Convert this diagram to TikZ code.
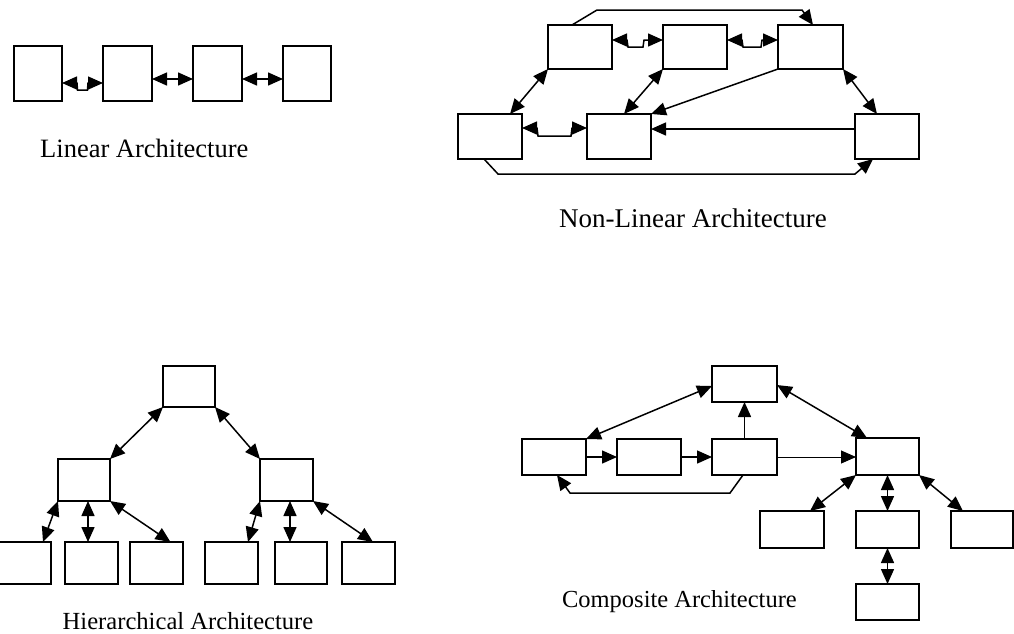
\documentclass[tikz,border=0pt]{standalone}
\usepackage{fontspec}
\setmainfont{Liberation Serif}
\usetikzlibrary{arrows.meta}
\begin{document}
\begin{tikzpicture}[x=1pt,y=-1pt,
  bx/.style 2 args={draw, line width=1.6pt, minimum width=#1pt, minimum height=#2pt, inner sep=0pt, outer sep=0pt},
  con/.style={line width=1.5pt, line join=miter},
  arr/.style={con, -{Triangle[length=15pt,width=13pt]}},
  biarr/.style={con, {Triangle[length=15pt,width=13pt]}-{Triangle[length=15pt,width=13pt]}},
  lab/.style={anchor=base, inner sep=0pt}]
\fill[white] (0,0) rectangle (1014,633);
\useasboundingbox (0,0) rectangle (1014,633);

% ---------- Linear ----------
\node[bx={48}{55}] (l1) at (38,73.5) {};
\node[bx={49}{55}] (l2) at (127.5,73.5) {};
\node[bx={49}{55}] (l3) at (217.5,73.5) {};
\node[bx={48}{55}] (l4) at (307,73.5) {};
\draw[biarr] (l1.east |- 0,83) -- (77,83) -- (77.5,90) -- (87.5,90) -- (88,83) -- (l2.west |- 0,83);
\draw[biarr] (l2.east |- 0,79) -- (l3.west |- 0,79);
\draw[biarr] (l3.east |- 0,79) -- (l4.west |- 0,79);
\node[lab, anchor=base west, font=\fontsize{26.5}{30}\selectfont] (tl) at (40,157) {Linear Architecture};

% ---------- Non-linear ----------
\node[bx={64}{44}] (na) at (580,47) {};
\node[bx={64}{44}] (nb) at (695,47) {};
\node[bx={65}{44}] (nc) at (810.5,47) {};
\node[bx={64}{45}] (nd) at (490,136.5) {};
\node[bx={64}{45}] (ne) at (619,136.5) {};
\node[bx={64}{45}] (nf) at (887,136.5) {};
\draw[arr] ([xshift=-8pt]na.north) -- (597,10) -- (802,10) -- ([xshift=2.5pt]nc.north);
\draw[biarr] (na.east |- 0,40) -- (627,40) -- (628,47) -- (643,47) -- (644,40) -- (nb.west |- 0,40);
\draw[biarr] (nb.east |- 0,40) -- (742,40) -- (743,47) -- (761,47) -- (762,40) -- (nc.west |- 0,40);
\draw[biarr] (na.south west) -- ([xshift=20pt]nd.north);
\draw[biarr] (nb.south west) -- ([xshift=5pt]ne.north);
\draw[arr] (nc.south west) -- (ne.north east);
\draw[biarr] (nc.south east) -- ([xshift=-10pt]nf.north);
\draw[arr] (nf.west |- 0,129) -- (ne.east |- 0,129);
\draw[biarr] (nd.east |- 0,128) -- (537,128) -- (538,136) -- (571,136) -- (572,128) -- (ne.west |- 0,128);
\draw[arr] ([xshift=-6pt]nd.south) -- (498,174) -- (855,174) -- ([xshift=-14pt]nf.south);
\node[lab, font=\fontsize{27}{30}\selectfont] (tn) at (693,227) {Non-Linear Architecture};

% ---------- Hierarchical ----------
\node[bx={52}{41}] (ht) at (189,386.5) {};
\node[bx={52}{42}] (hl) at (84,480) {};
\node[bx={53}{42}] (hr) at (286.5,480) {};
\node[bx={53}{42}] (b1) at (24.5,563) {};
\node[bx={53}{42}] (b2) at (91.5,563) {};
\node[bx={53}{42}] (b3) at (156.5,563) {};
\node[bx={53}{42}] (b4) at (231.5,563) {};
\node[bx={52}{42}] (b5) at (301,563) {};
\node[bx={53}{42}] (b6) at (368.5,563) {};
\draw[biarr] (ht.south west) -- (hl.north east);
\draw[biarr] (ht.south east) -- (hr.north west);
\draw[biarr] (hl.south west) -- ([xshift=18.5pt]b1.north);
\draw[biarr] ([xshift=4pt]hl.south) -- ([xshift=-3.5pt]b2.north);
\draw[biarr] (hl.south east) -- ([xshift=14pt]b3.north);
\draw[biarr] (hr.south west) -- ([xshift=16.5pt]b4.north);
\draw[biarr] ([xshift=3.5pt]hr.south) -- ([xshift=-11pt]b5.north);
\draw[biarr] (hr.south east) -- ([xshift=4.5pt]b6.north);
\node[lab, font=\fontsize{24.6}{30}\selectfont] (th) at (188,629) {Hierarchical Architecture};

% ---------- Composite ----------
\node[bx={65}{36}] (ct) at (744.5,384) {};
\node[bx={64}{36}] (ca) at (554,457) {};
\node[bx={64}{36}] (cb) at (649,457) {};
\node[bx={65}{36}] (cc) at (744.5,457) {};
\node[bx={63}{37}] (ch) at (887.5,456.5) {};
\node[bx={64}{37}] (c1) at (792,529.5) {};
\node[bx={63}{37}] (c2) at (887.5,529.5) {};
\node[bx={62}{37}] (c3) at (982,529.5) {};
\node[bx={63}{36}] (c4) at (887.5,602) {};
\draw[biarr] ([yshift=-2pt]ct.west) -- (ca.north east);
\draw[arr] (ca.east) -- (cb.west);
\draw[arr] (cb.east) -- (cc.west);
\draw[arr] (cc.north) -- (ct.south);
\draw[arr] ([xshift=-1.5pt]cc.south) -- (730,493) -- (570,493) -- ([xshift=3pt]ca.south);
\draw[arr, line width=1pt] (cc.east) -- (ch.west |- cc.east);
\draw[biarr] ([yshift=-1pt]ct.east) -- ([xshift=-20.5pt]ch.north);
\draw[biarr] (ch.south west) -- ([xshift=18pt]c1.north);
\draw[biarr] (ch.south) -- (c2.north);
\draw[biarr] (ch.south east) -- ([xshift=-19pt]c3.north);
\draw[biarr] (c2.south) -- (c4.north);
\node[lab, anchor=base east, font=\fontsize{24.5}{30}\selectfont] (tc) at (797,607) {Composite Architecture};
\end{tikzpicture}
\end{document}
